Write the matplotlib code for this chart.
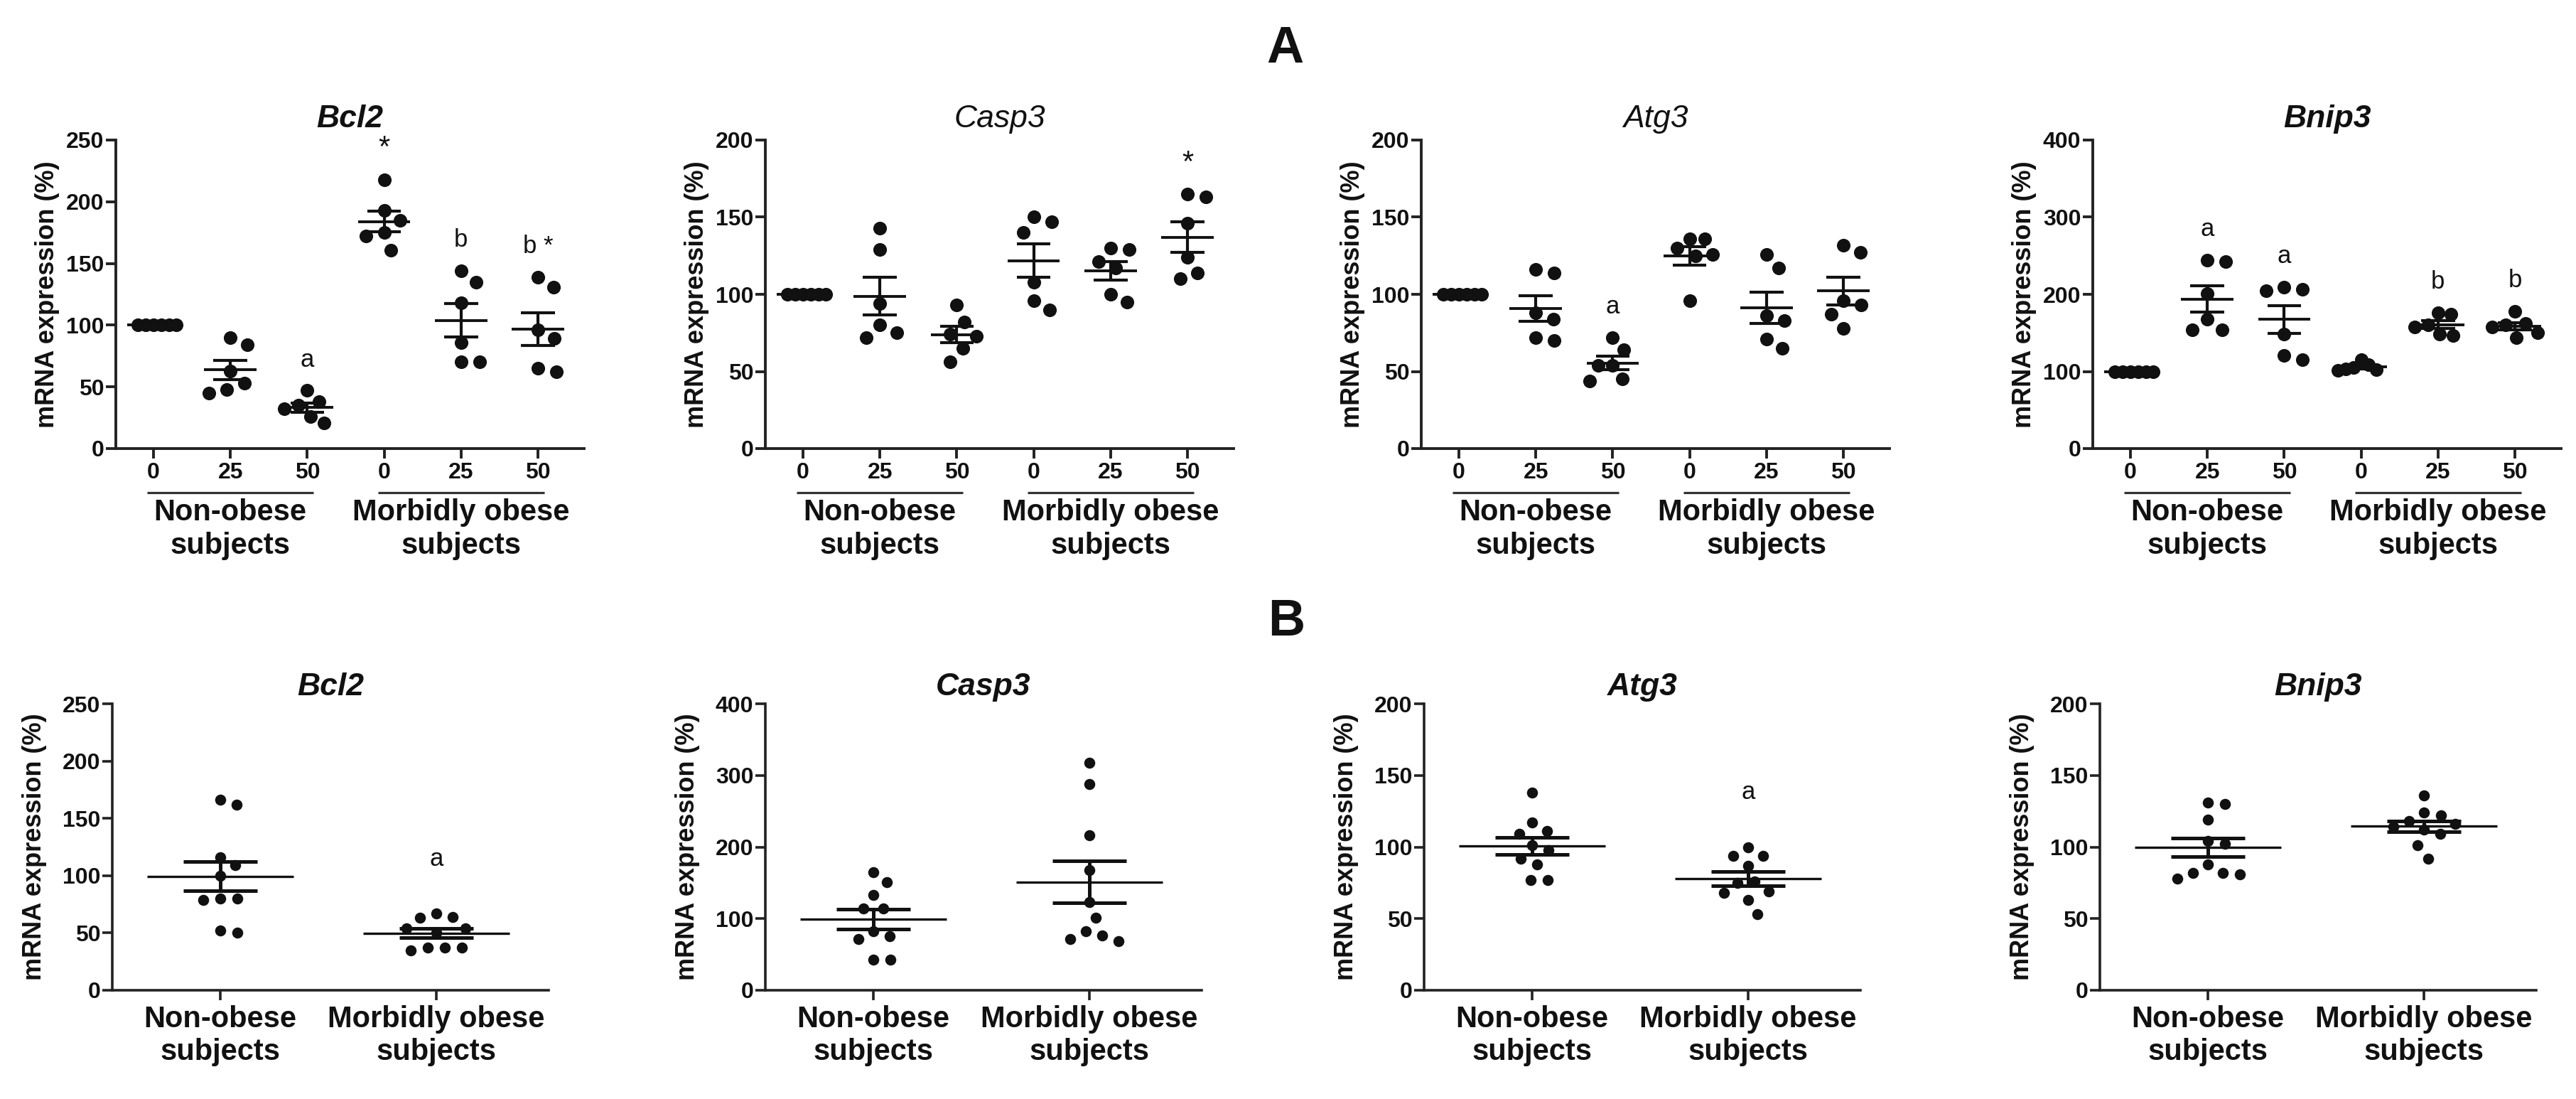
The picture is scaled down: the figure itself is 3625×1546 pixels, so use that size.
import numpy as np
import matplotlib
matplotlib.use('Agg')
import matplotlib.pyplot as plt
import matplotlib.transforms as mtransforms

plt.rcParams['font.family'] = ['Liberation Sans', 'DejaVu Sans']

FIG_W_PX, FIG_H_PX, DPI = 3625, 1546, 100
INK = '#111111'

# ---- data: panel A (dose response, n=6 per group) ----
dose_labels = ['0', '25', '50', '0', '25', '50']
group_names = ['Non-obese\nsubjects', 'Morbidly obese\nsubjects']

bcl2_a = [
    [100, 100, 100, 100, 100, 100],
    [53, 45, 48, 84, 90, 63],
    [47, 21, 26, 32, 35, 38],
    [218, 193, 185, 175, 172, 161],
    [144, 135, 118, 86, 70, 70],
    [139, 131, 96, 89, 62, 65],
]
casp3_a = [
    [100, 100, 100, 100, 100, 100],
    [143, 129, 94, 80, 72, 75],
    [93, 82, 74, 73, 65, 56],
    [150, 147, 140, 108, 96, 90],
    [130, 129, 121, 117, 95, 100],
    [165, 163, 146, 124, 110, 114],
]
atg3_a = [
    [100, 100, 100, 100, 100, 100],
    [114, 116, 88, 84, 70, 72],
    [72, 64, 54, 54, 44, 45],
    [126, 136, 136, 125, 130, 96],
    [117, 126, 86, 83, 65, 71],
    [127, 132, 96, 93, 87, 78],
]
bnip3_a = [
    [100, 100, 100, 100, 100, 100],
    [242, 244, 201, 168, 154, 154],
    [209, 205, 206, 148, 115, 121],
    [105, 101, 103, 109, 115, 102],
    [176, 174, 158, 148, 147, 160],
    [178, 162, 150, 144, 160, 158],
]

# ---- data: panel B (two groups, n=10) ----
bcl2_b = [[162, 166, 116, 109, 100, 80, 79, 80, 50, 52],
          [63, 67, 64, 54, 54, 50, 37, 35, 37, 37]]
casp3_b = [[165, 151, 133, 114, 114, 82, 75, 71, 43, 43],
           [318, 288, 216, 168, 123, 101, 76, 68, 71, 82]]
atg3_b = [[138, 117, 109, 111, 101, 98, 88, 92, 77, 77],
          [100, 94, 94, 87, 76, 75, 69, 68, 63, 53]]
bnip3_b = [[131, 130, 119, 104, 102, 88, 82, 81, 82, 78],
           [136, 124, 122, 118, 114, 116, 112, 109, 101, 92]]

# significance letters per group index
notes_a = {
    'Bcl2': {2: 'a', 3: '*', 4: 'b', 5: 'b *'},
    'Casp3': {5: '*'},
    'Atg3': {2: 'a'},
    'Bnip3': {1: 'a', 2: 'a', 4: 'b', 5: 'b'},
}
notes_b = {'Bcl2': {1: 'a'}, 'Casp3': {}, 'Atg3': {1: 'a'}, 'Bnip3': {}}


def swarm(values, xscale, yscale, diam, limit):
    """x offsets (data units) so dots of pixel size diam don't overlap"""
    vals = np.asarray(values, float)
    order = np.argsort(-vals, kind='stable')
    placed = []
    offs = np.zeros(len(vals))
    for i in order:
        y = vals[i] * yscale
        cands = [0.0]
        for px, py in placed:
            dy = y - py
            if abs(dy) < diam:
                dx = np.sqrt(diam ** 2 - dy ** 2)
                cands += [px + dx, px - dx]
        cands.sort(key=abs)
        c = cands[-1]
        for cand in cands:
            if all((cand - px) ** 2 + (y - py) ** 2 >= diam ** 2 - 1e-6 for px, py in placed):
                c = cand
                break
        placed.append((c, y))
        offs[i] = c / xscale
    m = np.abs(offs).max()
    if m > limit:
        offs *= limit / m
    return offs


def style_axes(ax, ymax, ystep, lw):
    for side in ['top', 'right']:
        ax.spines[side].set_visible(False)
    for side in ['left', 'bottom']:
        ax.spines[side].set_linewidth(lw)
        ax.spines[side].set_color('#222222')
    ax.set_ylim(0, ymax)
    ax.set_yticks(np.arange(0, ymax + 1, ystep))
    ax.tick_params(axis='both', direction='out', length=10, width=lw, color='#222222',
                   labelsize=23, labelcolor=INK)
    ax.tick_params(axis='y', pad=2)
    for lab in ax.get_yticklabels():
        lab.set_fontweight('bold')


def draw_groups(ax, groups, xlim, ymax, dot_s, diam, limit, half_mean, half_cap, lw_mean, lw_sem):
    bbox = ax.get_position()
    xscale = bbox.width * FIG_W_PX / (xlim[1] - xlim[0])
    yscale = bbox.height * FIG_H_PX / ymax
    for i, vals in enumerate(groups):
        vals = np.asarray(vals, float)
        offs = swarm(vals, xscale, yscale, diam, limit)
        ax.scatter(i + offs, vals, s=dot_s, color=INK, linewidths=0, zorder=3, clip_on=False)
        mean = vals.mean()
        sem = vals.std(ddof=1) / np.sqrt(len(vals))
        ax.hlines(mean, i - half_mean, i + half_mean, color=INK, lw=lw_mean, zorder=4)
        ax.hlines([mean - sem, mean + sem], i - half_cap, i + half_cap, color=INK, lw=lw_sem, zorder=4)
        ax.vlines(i, mean - sem, mean + sem, color=INK, lw=lw_sem, zorder=4)
    ax.set_xlim(*xlim)


def add_notes(ax, groups, notes, ymax, frac):
    for i, txt in notes.items():
        top = max(groups[i])
        size = 30 if txt == '*' else 25
        ax.text(i, top + frac * ymax, txt, ha='center', va='center', fontsize=size, color=INK)


def draw_dose_panel(ax, title, groups, ymax, ystep, notes, title_weight):
    style_axes(ax, ymax, ystep, 2.8)
    xlim = (-0.49, 5.6)
    draw_groups(ax, groups, xlim, ymax, 190, 26, 0.3, 0.34, 0.22, 2.8, 3.0)
    add_notes(ax, groups, notes, ymax, 0.1)
    ax.set_xticks(range(len(dose_labels)))
    ax.set_xticklabels(dose_labels, fontweight='bold')
    ax.tick_params(axis='x', pad=3.5)
    trans = mtransforms.blended_transform_factory(ax.transData, ax.transAxes)
    for k, name in enumerate(group_names):
        x0 = 3 * k
        ax.plot([x0 - 0.08, x0 + 2.08], [-0.143, -0.143], transform=trans, clip_on=False,
                color='#333333', lw=2.3, solid_capstyle='butt')
        ax.text(x0 + 1, -0.162, name, transform=trans, ha='center', va='top',
                fontsize=30, fontweight='bold', color=INK)
    ax.set_ylabel('mRNA expression (%)', fontsize=26, fontweight='bold', color=INK)
    ax.yaxis.set_label_coords(-0.12, 0.5)
    ax.text(0.5, 1.042, title, transform=ax.transAxes, ha='center', va='baseline',
            fontsize=32, style='italic', fontweight=title_weight, color=INK)


def draw_pair_panel(ax, title, groups, ymax, ystep, notes):
    style_axes(ax, ymax, ystep, 2.6)
    xlim = (-0.5, 1.52)
    draw_groups(ax, groups, xlim, ymax, 125, 24, 0.35, 0.34, 0.17, 2.4, 3.6)
    add_notes(ax, groups, notes, ymax, 0.19)
    ax.set_xticks([0, 1])
    ax.set_xticklabels(group_names, fontsize=30, fontweight='bold')
    ax.tick_params(axis='x', pad=5)
    ax.set_ylabel('mRNA expression (%)', fontsize=26, fontweight='bold', color=INK)
    ax.yaxis.set_label_coords(-0.15, 0.5)
    ax.text(0.5, 1.03, title, transform=ax.transAxes, ha='center', va='baseline',
            fontsize=32, style='italic', fontweight='bold', color=INK)


fig = plt.figure(figsize=(FIG_W_PX / DPI, FIG_H_PX / DPI), dpi=DPI)

top_lefts = [163, 1077, 2000, 2945]
bot_lefts = [158, 1077, 2004, 2955]

panels_a = [('Bcl2', bcl2_a, 250, 50, 'bold'), ('Casp3', casp3_a, 200, 50, 'normal'),
            ('Atg3', atg3_a, 200, 50, 'normal'), ('Bnip3', bnip3_a, 400, 100, 'bold')]
panels_b = [('Bcl2', bcl2_b, 250, 50), ('Casp3', casp3_b, 400, 100),
            ('Atg3', atg3_b, 200, 50), ('Bnip3', bnip3_b, 200, 50)]

for left, (title, groups, ymax, ystep, weight) in zip(top_lefts, panels_a):
    ax = fig.add_axes([left / FIG_W_PX, (FIG_H_PX - 631) / FIG_H_PX, 659 / FIG_W_PX, 434 / FIG_H_PX])
    draw_dose_panel(ax, title, groups, ymax, ystep, notes_a[title], weight)

for left, (title, groups, ymax, ystep) in zip(bot_lefts, panels_b):
    ax = fig.add_axes([left / FIG_W_PX, (FIG_H_PX - 1393) / FIG_H_PX, 614 / FIG_W_PX, 403 / FIG_H_PX])
    draw_pair_panel(ax, title, groups, ymax, ystep, notes_b[title])

fig.text(1808 / FIG_W_PX, 1 - 88 / FIG_H_PX, 'A', ha='center', va='baseline',
         fontsize=52, fontweight='bold', color=INK)
fig.text(1810 / FIG_W_PX, 1 - 894 / FIG_H_PX, 'B', ha='center', va='baseline',
         fontsize=52, fontweight='bold', color=INK)

fig.savefig('out.png', dpi=DPI, facecolor='white')
plt.close(fig)
